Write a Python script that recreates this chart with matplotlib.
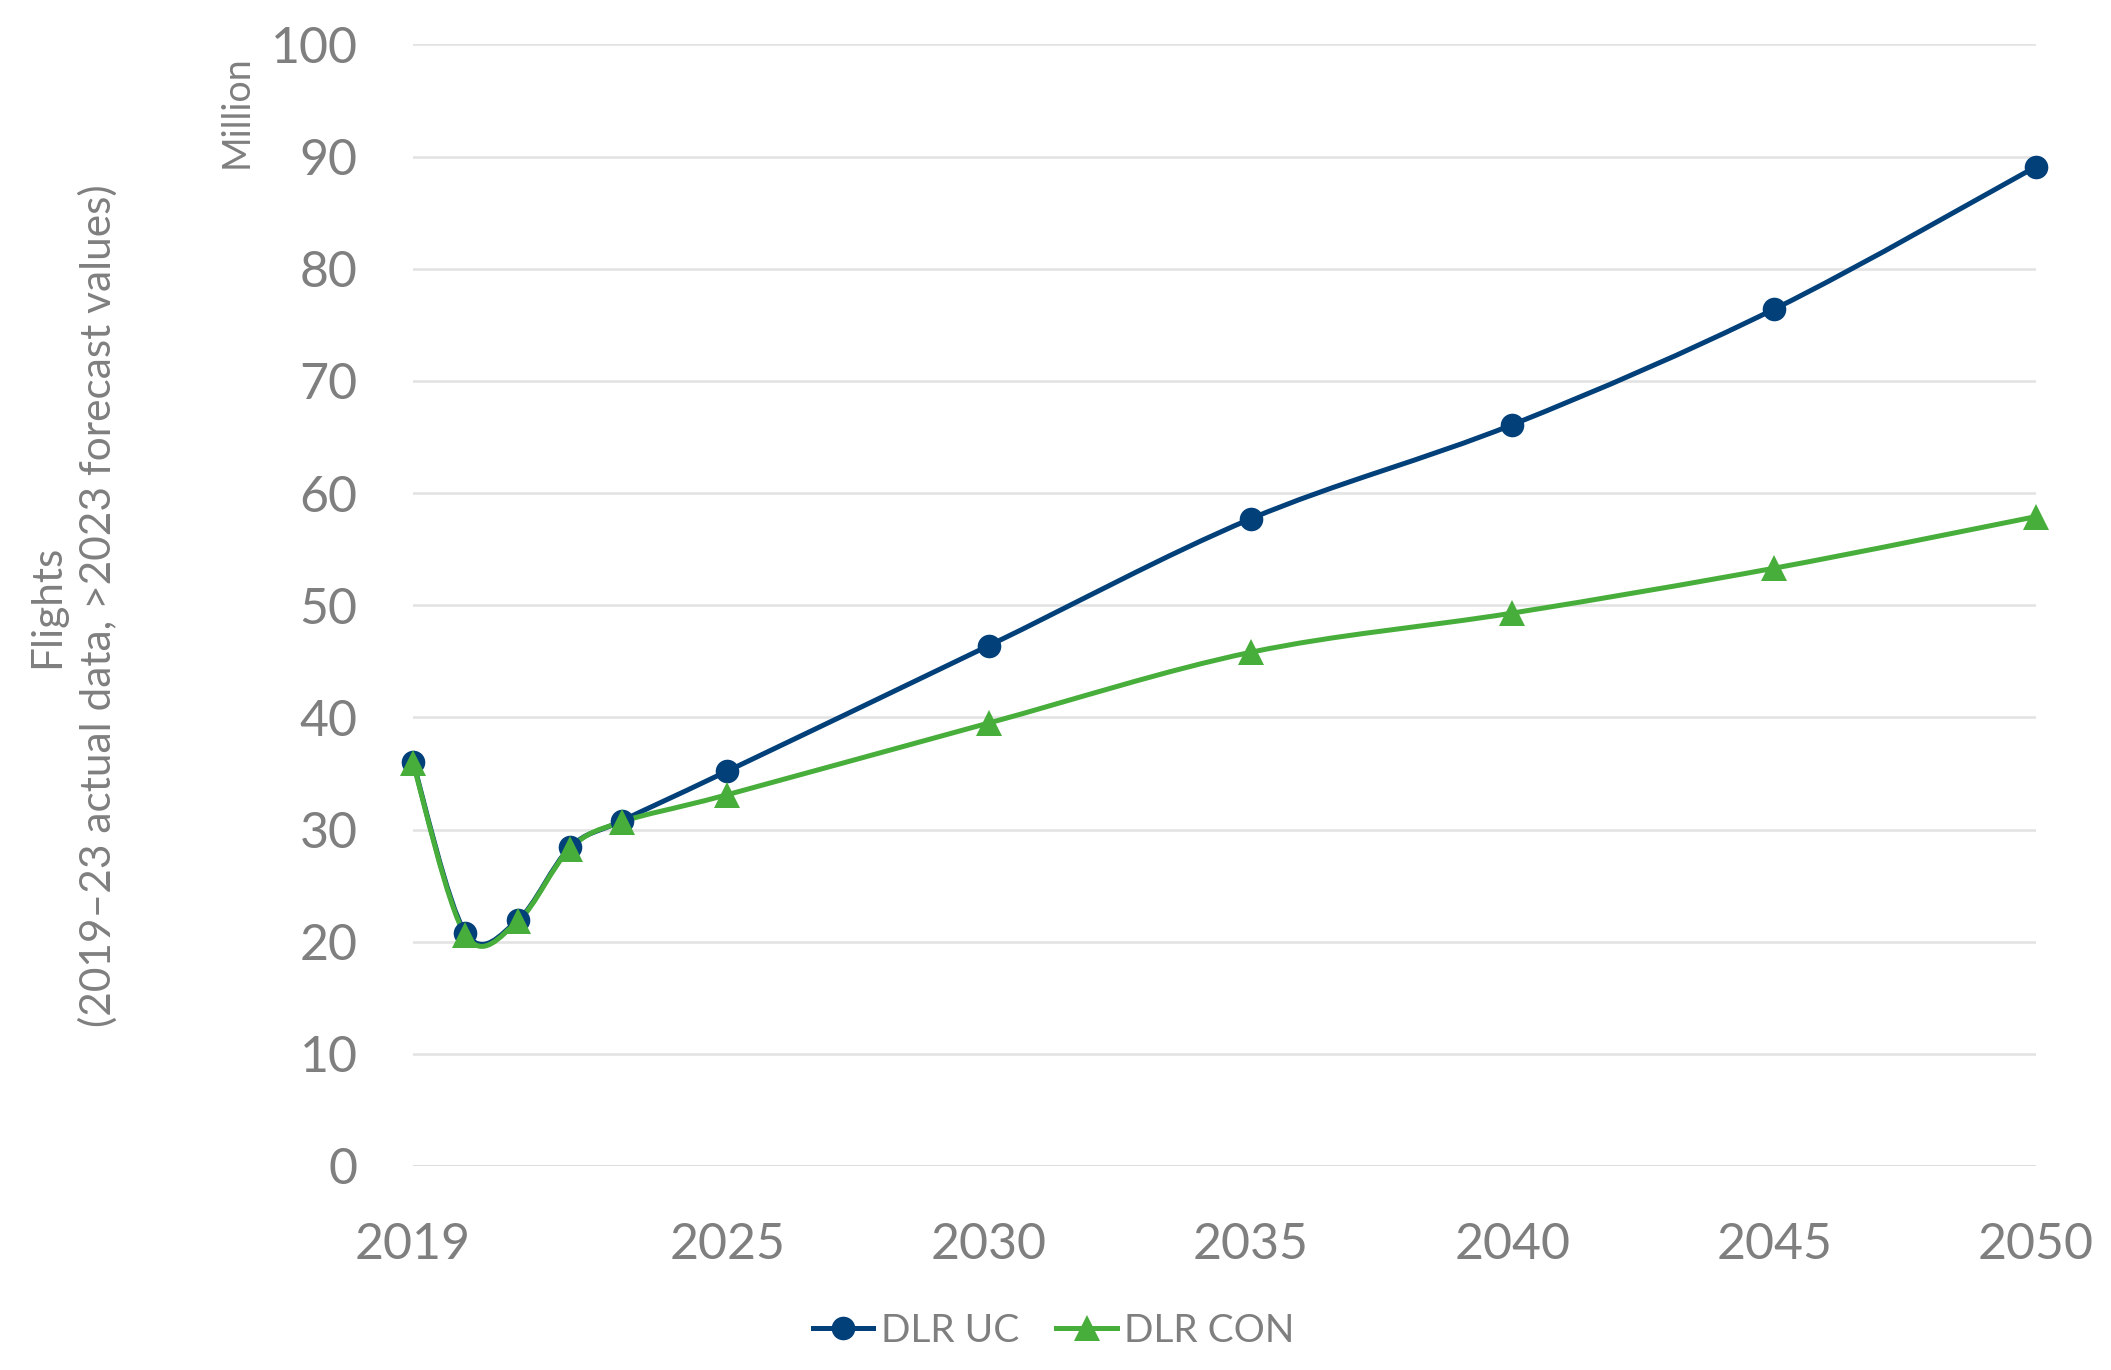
import matplotlib
matplotlib.use("Agg")
import matplotlib.pyplot as plt
from matplotlib.path import Path
from matplotlib.patches import PathPatch
from matplotlib.lines import Line2D
import numpy as np

plt.rcParams['font.family'] = ['Lato', 'DejaVu Sans']

years = [2019, 2020, 2021, 2022, 2023, 2025, 2030, 2035, 2040, 2045, 2050]
dlr_uc = [36.0, 20.8, 21.9, 28.4, 30.8, 35.2, 46.4, 57.7, 66.1, 76.4, 89.1]
dlr_con = [35.9, 20.6, 21.8, 28.3, 30.7, 33.1, 39.5, 45.8, 49.3, 53.3, 57.9]
x_ticks = [2019, 2025, 2030, 2035, 2040, 2045, 2050]
y_ticks = [0, 10, 20, 30, 40, 50, 60, 70, 80, 90, 100]
series_names = ["DLR UC", "DLR CON"]

BLUE = "#02407A"
GREEN = "#48AE3B"
GRAY = "#7F7F7F"

W, H = 2111, 1370
fig = plt.figure(figsize=(W / 100, H / 100), dpi=100)
ax = fig.add_axes([413 / W, 1 - 1166 / H, (2036 - 413) / W, (1166 - 44.4) / H])


def smooth_path(xs, ys):
    """Excel-like smoothed line (Catmull-Rom as cubic Bezier) through the data."""
    P = np.column_stack([xs, ys]).astype(float)
    n = len(P)
    verts = [tuple(P[0])]
    codes = [Path.MOVETO]
    for i in range(n - 1):
        p0 = P[i - 1] if i > 0 else P[i]
        p1 = P[i]
        p2 = P[i + 1]
        p3 = P[i + 2] if i + 2 < n else P[i + 1]
        c1 = p1 + (p2 - p0) / 6.0
        c2 = p2 - (p3 - p1) / 6.0
        verts += [tuple(c1), tuple(c2), tuple(p2)]
        codes += [Path.CURVE4, Path.CURVE4, Path.CURVE4]
    return Path(verts, codes)


LW = 3.6
for vals, color, marker, ms in [(dlr_uc, BLUE, 'o', 17), (dlr_con, GREEN, '^', 18.5)]:
    patch = PathPatch(smooth_path(years, vals), facecolor='none', edgecolor=color,
                      lw=LW, capstyle='round', joinstyle='round', zorder=3, clip_on=False)
    ax.add_patch(patch)
    ax.plot(years, vals, linestyle='none', marker=marker, ms=ms, color=color,
            markeredgewidth=0, zorder=4, clip_on=False)

ax.set_xlim(2019, 2050)
ax.set_ylim(0, 100)
ax.set_xticks(x_ticks)
ax.set_xticklabels([str(t) for t in x_ticks])
ax.set_yticks(y_ticks)
ax.set_yticklabels([str(t) for t in y_ticks])
ax.tick_params(axis='both', length=0, labelsize=36, labelcolor=GRAY)
ax.tick_params(axis='y', pad=40)
ax.tick_params(axis='x', pad=40)
for s in ax.spines.values():
    s.set_visible(False)
ax.set_axisbelow(True)
for t in y_ticks:
    ax.axhline(t, color="#D6D6D6" if t == 0 else "#E3E3E3", lw=1.9, zorder=1)

fig.text(237 / W, 1 - 112 / H, "Million", rotation=90, ha='center', va='center',
         fontsize=27, color=GRAY)
fig.text(73 / W, 1 - 606 / H, "Flights\n(2019\u201323 actual data, >2023 forecast values)",
         rotation=90, ha='center', va='center', multialignment='center',
         fontsize=30.5, color=GRAY, linespacing=1.35)

handles = [Line2D([], [], color=BLUE, lw=LW, marker='o', ms=17, markeredgewidth=0),
           Line2D([], [], color=GREEN, lw=LW, marker='^', ms=18.5, markeredgewidth=0)]
leg = fig.legend(handles, series_names, loc='center', bbox_to_anchor=(1054 / W, 1 - 1331 / H),
                 ncol=2, frameon=False, fontsize=28, handlelength=1.55, handletextpad=0.2,
                 columnspacing=0.95, labelcolor=GRAY)

fig.savefig("out.png", dpi=100)
